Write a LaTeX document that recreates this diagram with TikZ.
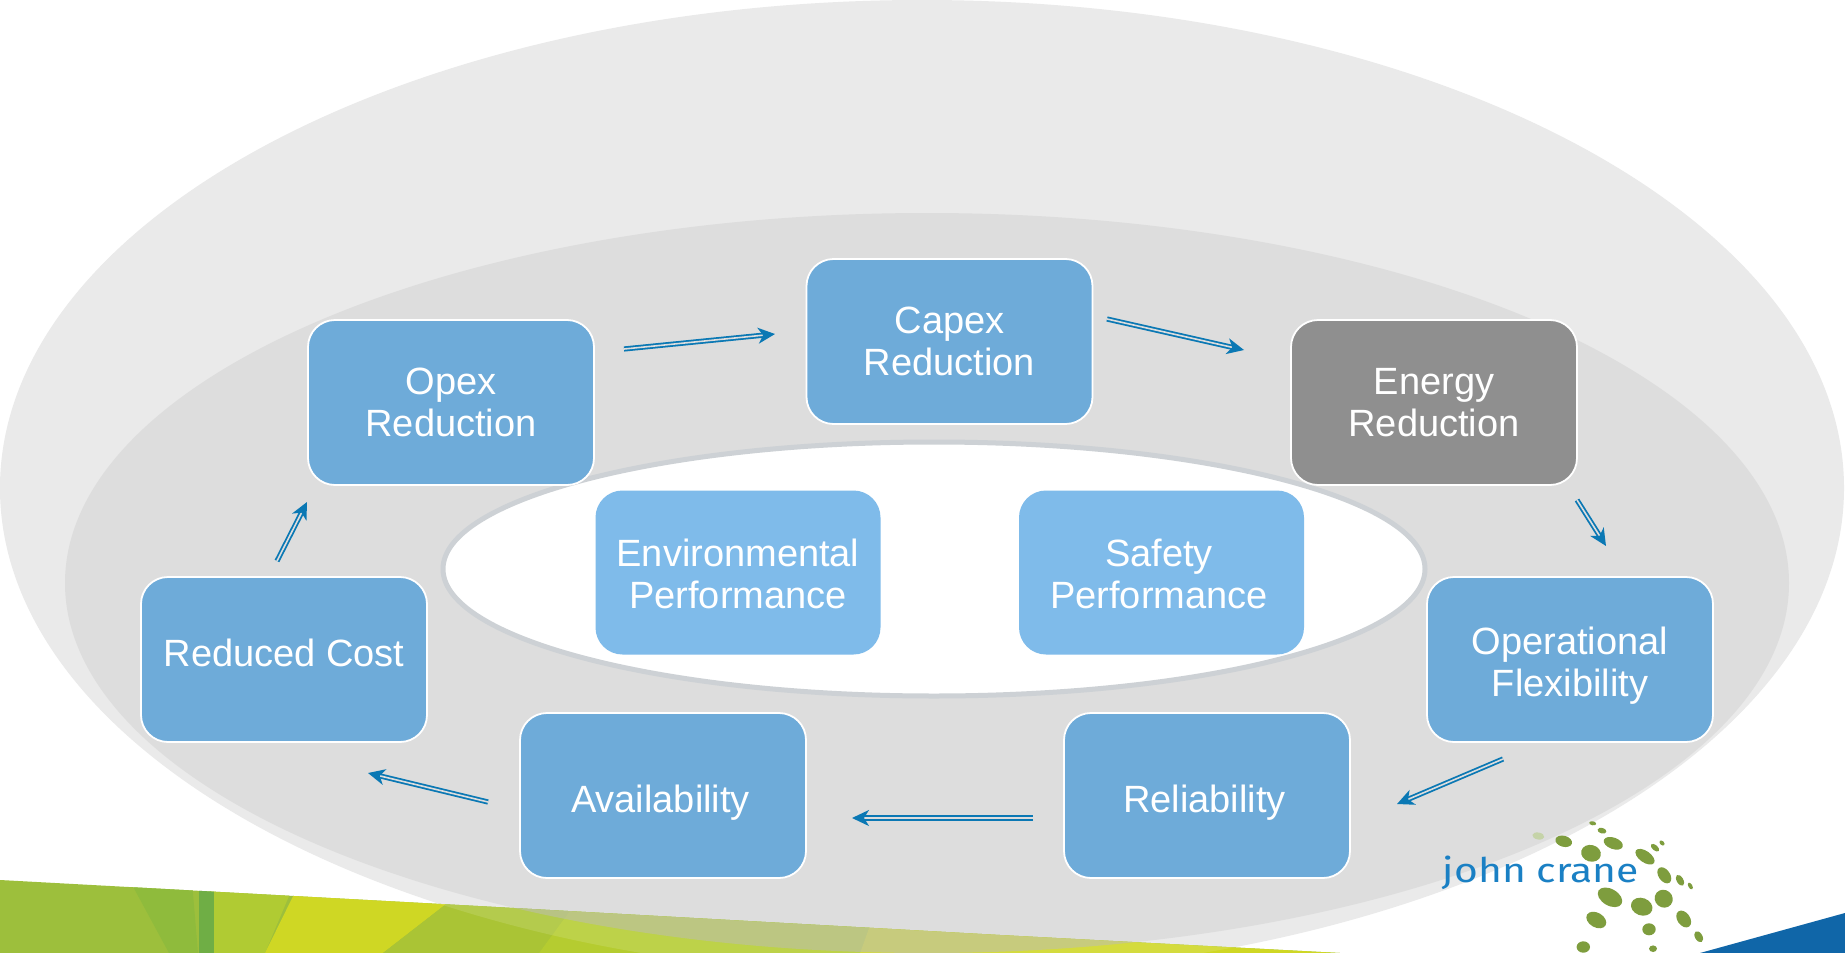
\documentclass[tikz,border=0pt]{standalone}
\usepackage{fontspec}
\setmainfont{Liberation Sans}
\newfontfamily\logofont{Fira Sans}
\usetikzlibrary{arrows.meta}
\definecolor{outerE}{HTML}{EAEAEA}
\definecolor{midE}{HTML}{DDDDDD}
\definecolor{veil}{HTML}{BCBCBC}
\definecolor{ringE}{HTML}{CDD1D5}
\definecolor{boxblue}{HTML}{6EABD9}
\definecolor{innerblue}{HTML}{7FBBEA}
\definecolor{boxgray}{HTML}{8F8F8F}
\definecolor{arrowblue}{HTML}{0A78B4}
\definecolor{dotgreen}{HTML}{7E9D3E}
\definecolor{logoblue}{HTML}{1A80C4}
\definecolor{bandA}{HTML}{9DBF3C}
\definecolor{bandB}{HTML}{8FBB3C}
\definecolor{bandC}{HTML}{6FAE45}
\definecolor{bandD}{HTML}{B0CB33}
\definecolor{bandE}{HTML}{CFD724}
\definecolor{bandF}{HTML}{AAC435}
\definecolor{bandG}{HTML}{B5CC30}
\definecolor{cornerblue}{HTML}{1066A8}
\tikzset{
  flowbox/.style={draw=white,line width=1.8pt,rounded corners=27pt,fill=boxblue,text=white,
    minimum width=286pt,minimum height=165pt,inner sep=0pt,
    font=\fontsize{38}{42}\selectfont},
  innerbox/.style={flowbox,fill=innerblue,draw=none,minimum width=285pt,minimum height=164pt},
  flowarrow/.style={draw=arrowblue,line width=1.8pt,double=midE,double distance=1.6pt,
    -{Stealth[length=17pt,width=16pt,inset=5pt]}},
}
% text lowered by #1 from the centre of the box
\newcommand{\boxtext}[2]{\raisebox{#1}[0pt][0pt]{\begin{tabular}[t]{@{}c@{}}#2\end{tabular}}}
\newcommand{\logodot}[6][dotgreen]{\fill[#1,shift={(#2,#3)},rotate=-#6] (0,0) ellipse [x radius=#4pt,y radius=#5pt];}
\begin{document}
\begin{tikzpicture}[x=1pt,y=-1pt]
\useasboundingbox (0,0) rectangle (1845,953);
\fill[white] (0,0) rectangle (1845,953);
% ellipses
\fill[outerE] (922,488) ellipse [x radius=922pt,y radius=488pt];
\fill[midE] (927,583) ellipse [x radius=862pt,y radius=370pt];
% band
\begin{scope}
\clip (0,880) -- (478,906) -- (1000,935) -- (1340,953) -- (0,953) -- cycle;
\fill[bandA] (0,870) rectangle (1400,953);
\fill[bandB] (124,870) -- (169,953) -- (198,953) -- (191,870) -- cycle;
\fill[bandD] (210,870) -- (210,953) -- (265,953) -- (300,870) -- cycle;
\fill[bandC] (199,870) rectangle (214,953);
\fill[bandE] (306,870) -- (265,953) -- (383,953) -- (490,870) -- cycle;
\fill[bandF] (490,870) -- (383,953) -- (539,953) -- (600,870) -- cycle;
\fill[bandG] (600,870) -- (539,953) -- (860,953) -- (890,870) -- cycle;
\fill[bandE] (890,870) -- (860,953) -- (1400,953) -- (1400,870) -- cycle;
% veil of the ellipses over the band
\begin{scope}
\clip (922,488) ellipse [x radius=922pt,y radius=488pt];
\fill[white,opacity=.12] (0,860) rectangle (1400,953);
\end{scope}
\begin{scope}
\clip (927,583) ellipse [x radius=862pt,y radius=370pt];
\fill[veil,opacity=.5] (0,860) rectangle (1400,953);
\end{scope}
\end{scope}
% blue corner
\fill[cornerblue] (1700,953) -- (1845,913) -- (1845,953) -- cycle;
% white centre ellipse
\draw[ringE,line width=5pt,fill=white] (934,569) ellipse [x radius=491pt,y radius=127pt];
% boxes
\node[flowbox] (opex) at (451,402.5) {\boxtext{8pt}{Opex\\Reduction}};
\node[flowbox] (capex) at (949.5,341.5) {\boxtext{8pt}{Capex\\Reduction}};
\node[flowbox,fill=boxgray] (energy) at (1434,402.5) {\boxtext{8pt}{Energy\\Reduction}};
\node[flowbox] (oper) at (1570,659.5) {\boxtext{5.5pt}{Operational\\Flexibility}};
\node[flowbox] (rel) at (1207,795.5) {\hspace*{-5pt}\boxtext{-17pt}{Reliability}};
\node[flowbox] (avail) at (663,795.5) {\hspace*{-5pt}\boxtext{-17pt}{Availability}};
\node[flowbox] (cost) at (284,659.5) {\boxtext{-7pt}{Reduced Cost}};
\node[innerbox] (env) at (738,572.5) {\boxtext{6.5pt}{Environmental\\Performance}};
\node[innerbox] (safety) at (1161.5,572.5) {\hspace*{-5pt}\boxtext{6.5pt}{Safety\\Performance}};
% connector ends
\coordinate (a1) at (624,349); \coordinate (a2) at (775,334);
\coordinate (b1) at (1107,319); \coordinate (b2) at (1244,350);
\coordinate (c1) at (1577,500); \coordinate (c2) at (1606,546);
\coordinate (d1) at (1503,759); \coordinate (d2) at (1397,804);
\coordinate (e1) at (1033,818); \coordinate (e2) at (852,818);
\coordinate (f1) at (488,802); \coordinate (f2) at (368,773);
\coordinate (g1) at (277,561); \coordinate (g2) at (307,502);
\draw[flowarrow] (a1) -- (a2);
\draw[flowarrow] (b1) -- (b2);
\draw[flowarrow] (c1) -- (c2);
\draw[flowarrow] (d1) -- (d2);
\draw[flowarrow] (e1) -- (e2);
\draw[flowarrow] (f1) -- (f2);
\draw[flowarrow] (g1) -- (g2);
% logo
\node[text=logoblue,font=\logofont\fontsize{34}{34}\selectfont,inner sep=0pt,anchor=base] (logo) at (1541,882) {\scalebox{1.2}[1]{john crane}};
\logodot[dotgreen!45!white]{1538.3}{836}{6}{3.5}{10}
\logodot{1563.7}{841.3}{8.5}{5.5}{15}
\logodot{1592.7}{823.3}{3.5}{2}{10}
\logodot{1602}{830.7}{4.5}{2.8}{15}
\logodot{1613.3}{843.3}{10}{5.7}{20}
\logodot{1591}{853.3}{10}{8.3}{15}
\logodot{1645}{856.7}{11}{5.7}{35}
\logodot{1655}{847.7}{5}{2.7}{40}
\logodot{1662}{843}{3}{2}{45}
\logodot{1664.3}{875.3}{9}{5.7}{55}
\logodot{1680}{880.3}{6}{3.3}{60}
\logodot{1690.3}{886}{3.7}{2}{60}
\logodot{1610}{897.3}{13.3}{8.3}{30}
\logodot{1641.7}{906.7}{11}{8.7}{20}
\logodot{1663.7}{898.7}{9.3}{8.7}{40}
\logodot{1596.3}{920}{10.7}{7.3}{30}
\logodot{1683.7}{919}{9.3}{6.3}{55}
\logodot{1649}{929.3}{6.7}{6}{0}
\logodot{1698.7}{936.7}{6}{3.7}{60}
\logodot{1583.3}{947}{6.7}{5.7}{0}
\logodot{1653}{948.7}{4}{3.3}{0}
\end{tikzpicture}
\end{document}
